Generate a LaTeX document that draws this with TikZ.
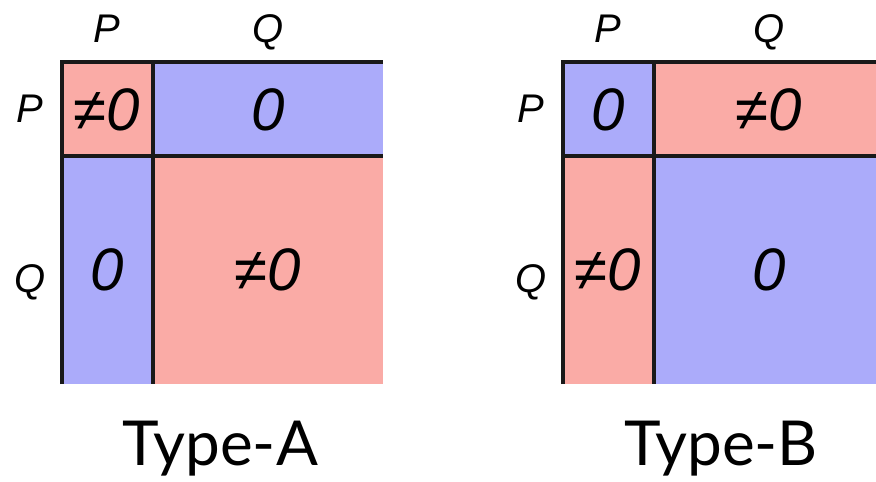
\documentclass[tikz,border=0pt]{standalone}
\usepackage{fontspec}
\setmainfont{Liberation Sans}
\newfontfamily\typefont{Lato}
\definecolor{pinkc}{HTML}{FAABA6}
\definecolor{bluec}{HTML}{ABABFA}
\begin{document}
\begin{tikzpicture}[x=1pt,y=-1pt,
    lbl/.style={anchor=base,font=\fontsize{40}{44}\selectfont\itshape},
    entry/.style={anchor=base,font=\fontsize{60}{64}\selectfont\itshape},
    grid/.style={line width=4pt,draw=black!90}]
  \clip (0,0) rectangle (876,482);
  \foreach \sx/\da/\db/\ta/\tb/\kind in {0/pinkc/bluec/≠0/0/A,501/bluec/pinkc/0/≠0/B} {
    \begin{scope}[xshift=\sx pt]
      \fill[\da] (62,62) rectangle (153,156);
      \fill[\db] (153,62) rectangle (383,156);
      \fill[\db] (62,156) rectangle (153,384);
      \fill[\da] (153,156) rectangle (383,384);
      \draw[grid] (62,384) -- (62,62) -- (383,62) (153,62) -- (153,384) (60,156) -- (383,156);
      \node[lbl] (colP\kind) at (107,42) {P};
      \node[lbl] (colQ\kind) at (268,42) {Q};
      \node[lbl] (rowP\kind) at (30,122) {P};
      \node[lbl] (rowQ\kind) at (30,292) {Q};
      \node[entry] (pp\kind) at (107,130) {\ta};
      \node[entry] (pq\kind) at (268,130) {\tb};
      \node[entry] (qp\kind) at (107,290) {\tb};
      \node[entry] (qq\kind) at (268,290) {\ta};
      \node[anchor=base,font=\fontsize{62}{66}\selectfont\typefont] (type\kind) at (220,465) {Type-\kind};
    \end{scope}
  }
\end{tikzpicture}
\end{document}
